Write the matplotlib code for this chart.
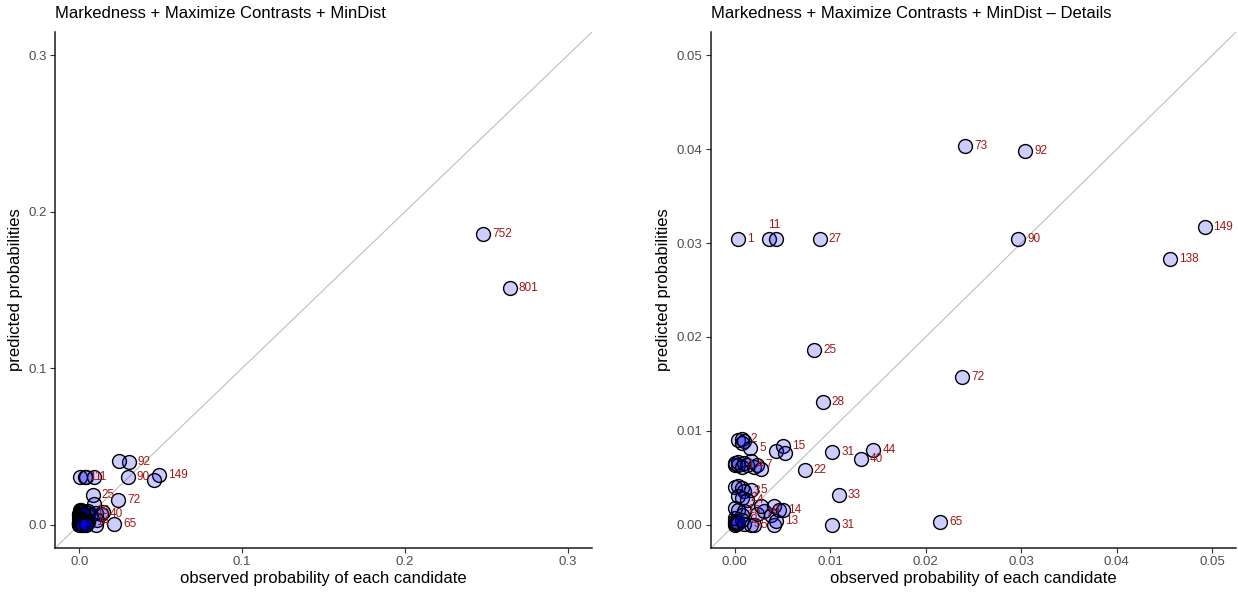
import matplotlib
matplotlib.use("Agg")
import matplotlib.pyplot as plt

plt.rcParams['font.family'] = ['Liberation Sans', 'DejaVu Sans']

# ---- data: candidate counts (labels), observed and predicted probabilities ----
cand_label = ['752', '801', '149', '138', '92', '73', '90', '72', '65',
              '1', '11', '13', '27', '25', '28',
              '13', '15', '16', '31', '44', '40', '22', '33', '31',
              # dense cluster near the origin
              '1', '2', '2', '3', '5',
              '0', '0', '1', '1', '2', '3', '4', '5', '6', '7', '8',
              '0', '1', '2', '3', '5', '1', '2', '4',
              '0', '1', '3', '2', '7', '9', '8', '12', '14', '15', '11',
              '0', '0', '0', '0', '0', '0', '1', '3', '5', '2', '6', '12', '13']
observed = [0.2482, 0.2644, 0.0492, 0.0456, 0.0304, 0.0241, 0.0297, 0.0238, 0.0215,
            0.0003, 0.0036, 0.0043, 0.0089, 0.0083, 0.0092,
            0.0043, 0.0050, 0.0053, 0.0102, 0.0145, 0.0132, 0.0073, 0.0109, 0.0102,
            0.0003, 0.0007, 0.0007, 0.0010, 0.0016,
            0.0000, 0.0000, 0.0003, 0.0003, 0.0007, 0.0010, 0.0013, 0.0017, 0.0020, 0.0023, 0.0027,
            0.0000, 0.0003, 0.0007, 0.0010, 0.0017, 0.0003, 0.0007, 0.0013,
            0.0000, 0.0003, 0.0010, 0.0007, 0.0023, 0.0030, 0.0027, 0.0041, 0.0046, 0.0050, 0.0038,
            0.0000, 0.0000, 0.0000, 0.0001, 0.0000, 0.0001, 0.0003, 0.0010, 0.0017, 0.0007, 0.0020, 0.0041, 0.0043]
predicted = [0.1855, 0.1510, 0.0317, 0.0283, 0.0398, 0.0404, 0.0304, 0.0157, 0.0003,
             0.0304, 0.0304, 0.0304, 0.0304, 0.0186, 0.0131,
             0.0078, 0.0084, 0.0076, 0.0077, 0.0079, 0.0070, 0.0058, 0.0032, 0.0000,
             0.0090, 0.0091, 0.0087, 0.0089, 0.0082,
             0.0064, 0.0066, 0.0063, 0.0067, 0.0061, 0.0066, 0.0063, 0.0068, 0.0061, 0.0064, 0.0059,
             0.0040, 0.0041, 0.0039, 0.0036, 0.0037, 0.0030, 0.0028, 0.0026,
             0.0018, 0.0015, 0.0014, 0.0010, 0.0011, 0.0014, 0.0020, 0.0020, 0.0015, 0.0016, 0.0010,
             0.0000, 0.0002, 0.0004, 0.0001, 0.0007, 0.0003, 0.0002, 0.0001, 0.0000, 0.0005, 0.0000, 0.0000, 0.0004]
# which labels survive the label placement in each panel
show_left = ['752', '801', '149', '92', '90', '72', '65', '1', '11', '25', '15', '40', '14']
show_right_idx = [2, 3, 4, 5, 6, 7, 8, 9, 10, 12, 13, 14, 16, 18, 19, 20, 21, 22, 23,
                  25, 28, 31, 35, 38, 43, 44, 46, 47, 49, 50, 52, 53, 56, 66, 67, 68, 71]

titles = ['Markedness + Maximize Contrasts + MinDist',
          'Markedness + Maximize Contrasts + MinDist \u2013 Details']
xlabel = 'observed probability of each candidate'
ylabel = 'predicted probabilities'
left_ticks = [0.0, 0.1, 0.2, 0.3]
right_ticks = [0.00, 0.01, 0.02, 0.03, 0.04, 0.05]

W, H = 1238, 592
fig = plt.figure(figsize=(W / 100, H / 100), dpi=100)
axL = fig.add_axes([55 / W, 1 - 548 / H, (592 - 55) / W, (548 - 32) / H])
axR = fig.add_axes([711 / W, 1 - 548 / H, (1236 - 711) / W, (548 - 32) / H])

fill = (0, 0, 1, 0.2)
lab_col = '#A31515'
tick_col = '#4D4D4D'


def style(ax, lim, ticks, fmt):
    ax.set_xlim(lim)
    ax.set_ylim(lim)
    ax.plot(lim, lim, color='#BEBEBE', lw=0.8, zorder=1)
    for s in ['top', 'right']:
        ax.spines[s].set_visible(False)
    for s in ['left', 'bottom']:
        ax.spines[s].set_linewidth(1.1)
        ax.spines[s].set_color('#1A1A1A')
    ax.set_xticks(ticks)
    ax.set_yticks(ticks)
    ax.set_xticklabels([fmt.format(t) for t in ticks])
    ax.set_yticklabels([fmt.format(t) for t in ticks])
    ax.tick_params(length=3.5, width=0.8, color='#333333', labelcolor=tick_col,
                   labelsize=9.5, pad=2.5)
    ax.set_xlabel(xlabel, fontsize=12, labelpad=2)
    ax.set_ylabel(ylabel, fontsize=12, labelpad=4)


# left panel
style(axL, (-0.015, 0.315), left_ticks, '{:.1f}')
axL.scatter(observed, predicted, s=100, facecolor=fill, edgecolor='black', linewidth=1.0, zorder=3)
seen = set()
for lab, x, y in zip(cand_label, observed, predicted):
    if lab in show_left and lab not in seen:
        seen.add(lab)
        axL.annotate(lab, (x, y), xytext=(9, 0), textcoords='offset pixels',
                     ha='left', va='center', fontsize=8.5, color=lab_col, zorder=4)
axL.set_title(titles[0], loc='left', fontsize=12, pad=10)

# right panel
style(axR, (-0.0025, 0.0525), right_ticks, '{:.2f}')
axR.scatter(observed, predicted, s=100, facecolor=fill, edgecolor='black', linewidth=1.0,
            zorder=3, clip_on=True)
for i in show_right_idx:
    lab, x, y = cand_label[i], observed[i], predicted[i]
    if lab == '11':
        axR.annotate(lab, (x, y), xytext=(5, 14), textcoords='offset pixels',
                     ha='center', va='center', fontsize=8.5, color=lab_col, zorder=4)
    else:
        axR.annotate(lab, (x, y), xytext=(9, 0), textcoords='offset pixels',
                     ha='left', va='center', fontsize=8.5, color=lab_col, zorder=4)
axR.set_title(titles[1], loc='left', fontsize=12, pad=10)

fig.savefig('out.png', dpi=100)
